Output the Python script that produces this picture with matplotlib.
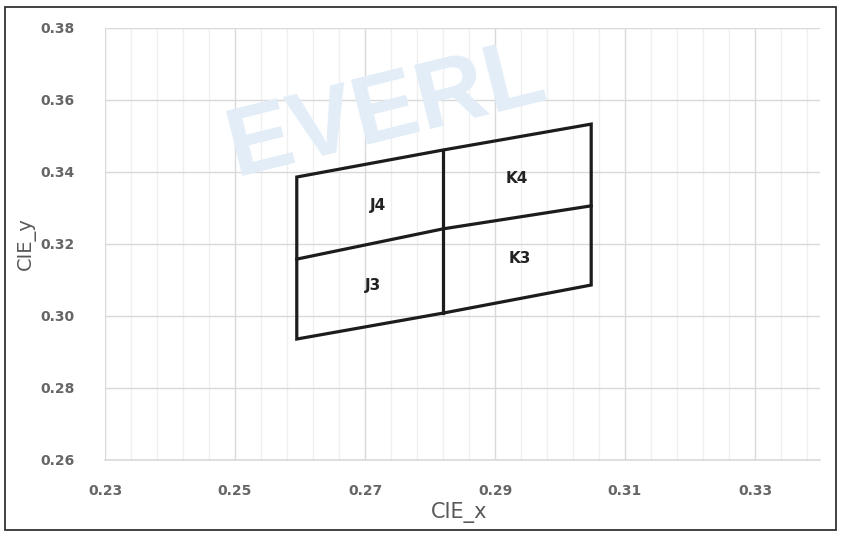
import matplotlib.pyplot as plt
from matplotlib.patches import Rectangle, Polygon
import numpy as np

# bin corner coordinates (CIE x of the three columns, CIE y at each column)
col_x = [0.2595, 0.2820, 0.3048]
y_bottom = [0.2936, 0.3008, 0.3086]
y_middle = [0.3158, 0.3242, 0.3306]
y_top = [0.3386, 0.3461, 0.3533]

bin_names = ['J4', 'K4', 'J3', 'K3']
label_x = [0.2720, 0.2934, 0.2712, 0.2938]
label_y = [0.3308, 0.3383, 0.3086, 0.3161]

x_ticks = [0.23, 0.25, 0.27, 0.29, 0.31, 0.33]
y_ticks = [0.26, 0.28, 0.30, 0.32, 0.34, 0.36, 0.38]

fig = plt.figure(figsize=(8.41, 5.35), dpi=100)
ax = fig.add_axes([0.1249, 0.1402, 0.8501, 0.8075])
ax.set_facecolor('none')

# faint watermark
fig.text(0.46, 0.79, 'EVERL', fontsize=70, fontweight='bold', family='Liberation Sans',
         color='#e2edf7', rotation=14, ha='center', va='center', zorder=0)

line_col = '#1c1c1c'
# outer frame of the four bins
outline = list(zip(col_x, y_bottom)) + list(zip(col_x[::-1], y_top[::-1]))
ax.add_patch(Polygon(outline, closed=True, fill=False, edgecolor=line_col, lw=2.3,
                     joinstyle='miter', zorder=3))
# inner dividers
ax.plot(col_x, y_middle, color=line_col, lw=2.3, zorder=3)
ax.plot([col_x[1], col_x[1]], [y_bottom[1], y_top[1]], color=line_col, lw=2.3, zorder=3)

for name, lx, ly in zip(bin_names, label_x, label_y):
    ax.text(lx, ly, name, fontsize=11, fontweight='bold', color='#222222',
            ha='center', va='center', zorder=4)

ax.set_xlim(0.23, 0.34)
ax.set_ylim(0.26, 0.38)
ax.set_xticks(x_ticks)
ax.set_yticks(y_ticks)
ax.set_xticks(np.arange(0.234, 0.3401, 0.004), minor=True)
ax.set_xticklabels(['%.2f' % v for v in x_ticks])
ax.set_yticklabels(['%.2f' % v for v in y_ticks])

ax.grid(which='major', axis='both', color='#d9d9d9', lw=1.0, zorder=1)
ax.grid(which='minor', axis='x', color='#efefef', lw=0.9, zorder=1)
ax.set_axisbelow(True)

for s in ['top', 'right', 'left']:
    ax.spines[s].set_visible(False)
ax.spines['bottom'].set_color('#d9d9d9')
ax.spines['bottom'].set_linewidth(1.2)

ax.tick_params(which='both', length=0)
ax.tick_params(axis='x', pad=17, labelsize=10, labelcolor='#666666')
ax.tick_params(axis='y', pad=22, labelsize=10, labelcolor='#666666')
for lab in ax.get_xticklabels() + ax.get_yticklabels():
    lab.set_fontweight('bold')

ax.set_xlabel('CIE_x', fontsize=15, color='#595959')
ax.set_ylabel('CIE_y', fontsize=14, color='#595959')
ax.xaxis.set_label_coords(0.495, -0.098)
ax.yaxis.set_label_coords(-0.097, 0.5)

fig.patches.append(Rectangle((0.006, 0.01), 0.988, 0.977, transform=fig.transFigure,
                             fill=False, edgecolor='#333333', lw=1.3))

fig.savefig('out.png', dpi=100)
